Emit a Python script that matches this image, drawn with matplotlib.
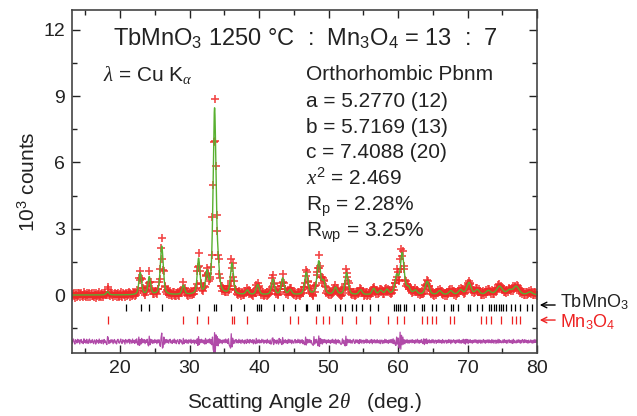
import matplotlib
matplotlib.use("Agg")
import matplotlib.pyplot as plt
import numpy as np
from matplotlib.ticker import MultipleLocator

plt.rcParams['font.family'] = ['Liberation Sans', 'DejaVu Sans']
plt.rcParams['mathtext.fontset'] = 'custom'
plt.rcParams['mathtext.rm'] = 'Liberation Sans'
plt.rcParams['mathtext.it'] = 'Liberation Serif:italic'
plt.rcParams['mathtext.bf'] = 'Liberation Sans:bold'

# peaks: position (deg), height (10^3 counts), FWHM (deg)
peak_pos = [18.2, 22.9, 24.2, 26.0, 29.1, 31.3, 32.5, 33.6, 34.1, 36.1, 38.3,
            39.8, 42.0, 43.4, 44.5, 46.8, 48.6, 49.3, 51.0, 52.6, 54.6, 56.5,
            57.5, 58.4, 59.8, 60.6, 61.5, 62.5, 64.2, 66.0, 67.6, 69.0, 70.2,
            71.4, 73.0, 74.6, 76.0, 77.0, 79.0]
peak_h = [0.15, 1.0, 0.8, 2.2, 0.42, 1.6, 0.9, 8.35, 0.9, 1.4, 0.2,
          0.45, 0.7, 0.75, 0.22, 1.0, 1.5, 0.55, 0.32, 1.0, 0.22, 0.28,
          0.18, 0.22, 0.8, 1.85, 0.28, 0.18, 0.6, 0.18, 0.18, 0.22, 0.55,
          0.22, 0.18, 0.38, 0.18, 0.38, 0.13]
peak_w = [0.45, 0.45, 0.45, 0.5, 0.45, 0.45, 0.45, 0.5, 0.45, 0.5, 0.5,
          0.5, 0.5, 0.5, 0.5, 0.55, 0.6, 0.5, 0.55, 0.55, 0.55, 0.55,
          0.55, 0.55, 0.6, 0.65, 0.6, 0.6, 0.65, 0.65, 0.65, 0.7, 0.7,
          0.7, 0.8, 1.0, 0.8, 1.0, 0.8]
background = 0.0

# obs - calc in units of 10 counts, one value per 0.1 deg from 13.0 to 80.0
resid = [
    6, -9, 3, 11, -5, -12, 8, 2, -7, 10,
    -3, 7, -11, 4, 9, -6, 1, -10, 12, -4,
    5, -8, 10, -2, -9, 6, 11, -7, 3, -5,
    9, -4, -10, 7, 2, -12, 8, -3, 5, -8,
    11, -6, 4, -9, 7, 1, -11, 9, -5, 3,
    -8, -14, 22, 16, -9, 4, -6, 8, -3, 7,
    -10, 5, 9, -7, 2, -11, 6, 10, -4, -8,
    3, 11, -6, -9, 8, -2, 5, -12, 9, 4,
    -7, 6, -3, 10, -10, 7, 2, -8, 11, -5,
    4, -9, 8, -6, 12, -10, -16, 20, -18, 8,
    -12, 14, -6, 9, -5, 8, -10, 6, -4, 10,
    -14, -20, 24, -15, 10, -6, 8, -9, 5, -7,
    9, -4, 6, -10, 7, -5, 8, -14, -22, 18,
    38, -30, -25, 20, -12, 8, -6, 9, -5, 7,
    -8, 5, 10, -6, 3, -9, 7, -4, 11, -7,
    6, -10, 4, 8, -5, -11, 9, -3, 6, -8,
    -12, 14, -10, 6, -4, 9, -7, 5, -9, 8,
    3, -6, 10, -8, 5, -4, 7, -11, 6, -3,
    -9, 12, -18, 22, -14, 8, -6, 10, -5, 7,
    -8, 6, -12, 14, -10, 7, -5, 9, -6, 12,
    -10, 8, -15, 20, -35, -50, 40, -55, 30, -18,
    22, -20, 12, -8, 9, -6, 5, -10, 7, -4,
    8, -6, 11, -5, 7, -9, 12, -15, -22, -30,
    35, -25, 15, -10, 6, -8, 5, 9, -6, 4,
    -7, 10, -4, 6, -9, 5, 8, -6, 3, -10,
    7, -5, -9, 10, -4, 6, -8, 9, -3, 5,
    -6, 8, -11, 7, -4, -10, 14, -8, 6, -5,
    9, -7, 4, -6, 10, -3, 7, -9, 5, -4,
    6, -8, 10, -5, 3, -9, 7, -12, -10, 15,
    16, -14, 8, -6, 5, -10, 7, -4, -12, 14,
    -6, 9, -8, -14, 18, -10, 6, -5, 8, -7,
    4, -9, 10, -6, 8, -5, 7, -10, 6, -3,
    -8, 5, 9, -7, 4, -6, 10, -4, 7, -9,
    6, -5, 8, -10, 4, -12, -15, 20, -16, 10,
    -7, 8, -5, 9, -6, 4, -10, -14, -18, 22,
    -12, 8, -6, 10, -8, -20, 25, -22, 14, -9,
    10, -12, 8, -6, 9, -5, 7, -10, 6, -4,
    8, -6, 5, -9, 7, -4, 10, -7, 5, -8,
    10, -12, 6, -5, 8, -7, 4, -9, -14, -10,
    12, -8, 6, -16, -20, 24, -18, 10, -6, 8,
    -5, 9, -7, 4, -8, 6, 10, -5, -9, 7,
    -4, 8, -6, 5, -10, 9, -5, 7, -8, 4,
    6, -9, 5, -4, 10, -7, 8, -5, 3, -8,
    7, -5, 9, -10, 6, -4, 8, -7, 5, -6,
    9, -6, 4, -8, 7, -10, 5, 6, -9, 4,
    -7, 10, -5, 8, -6, 4, -9, 7, -5, 8,
    -6, 9, -8, 12, -10, 6, -14, -18, 20, -12,
    16, -22, -30, 42, -35, 28, -15, 20, -12, 8,
    -10, 6, -5, 9, -7, 5, -8, 6, -4, 7,
    -6, 8, -5, 4, -9, 7, -6, 5, 10, -7,
    5, -8, 6, -4, 9, -6, -10, 12, -14, 10,
    -8, 12, -10, 6, -5, 8, -7, 4, -6, 9,
    -5, 7, -8, 4, 6, -9, 5, -4, 8, -6,
    7, -5, 4, -8, 9, -6, 5, -7, 4, 6,
    -8, 5, -6, 9, -4, 7, -10, 6, -5, 4,
    8, -6, 5, -9, 6, -4, 7, -5, 9, -7,
    4, -8, 6, -5, 10, -9, 8, -12, 10, -6,
    9, -10, 7, -5, 8, -6, 4, -8, 6, -5,
    7, -4, 8, -6, 5, -9, 6, -4, 7, -8,
    5, -7, 4, 9, -6, 5, -8, 6, -4, 7,
    -6, 8, -5, 4, -7, 9, -5, 6, -8, 4,
    6, -9, 5, -6, 10, -7, 8, -5, 4, -6,
    -5, 7, -6, 9, -4, 5, -8, 6, -7, 5,
    8, -5, 4, -7, 6, -9, 10, -6, 5, -4,
    -7, 6, -5, 8, -4, 6, -8, 5, -6, 9,
    5, -6, 8, -4, 7, -5, 4, -8, 6, -5,
    -4, 7, -6, 5, -8, 6, -5, 9, -4, 6,
    -5,
]

# Bragg positions
tb_ticks = [20.8, 23.0, 24.2, 26.1, 31.4, 33.5, 33.8, 35.9, 37.8, 39.7, 40.0,
            40.3, 42.1, 43.5, 45.2, 46.7, 46.9, 48.4, 48.7, 51.0, 51.7, 52.4,
            53.4, 53.9, 54.8, 56.0, 57.1, 59.4, 59.7, 60.0, 60.3, 60.8, 61.2,
            62.3, 63.5, 63.8, 64.9, 65.4, 66.6, 67.6, 67.9, 68.7, 70.0, 70.3,
            71.4, 72.1, 73.1, 73.4, 73.8, 74.1, 74.5, 74.8, 75.1, 75.5, 76.2,
            76.9, 77.6, 78.6, 79.3]
mn_ticks = [18.2, 29.0, 31.0, 32.6, 36.1, 36.4, 38.2, 44.4, 45.6, 48.2, 49.2,
            50.0, 51.9, 53.9, 56.0, 58.5, 59.9, 60.8, 63.5, 64.2, 64.9, 65.4,
            67.5, 68.0, 71.9, 72.6, 73.4, 74.8, 76.4, 77.0, 77.6]
diff_offset = -2.1


def profile(x):
    y = np.full_like(x, background)
    for p, h, w in zip(peak_pos, peak_h, peak_w):
        d = (x - p) / (w / 2)
        y += h * (0.5 / (1 + d**2) + 0.5 * np.exp(-np.log(2) * d**2))
    return y


x_fine = np.linspace(13.0, 80.0, 4000)
x_obs = 13.0 + 0.1 * np.arange(len(resid))
diff = np.array(resid) / 100.0
obs = profile(x_obs) + diff

fig = plt.figure(figsize=(6.37, 4.16), dpi=100)
ax = fig.add_axes([0.113, 0.151, 0.730, 0.825])

ax.plot(x_obs, obs, ls='none', marker='+', ms=6, mew=1.2, color='#f02828', alpha=0.85)
ax.plot(x_fine, profile(x_fine), color='#58b030', lw=1.0)
ax.vlines(tb_ticks, -0.40, -0.74, color='k', lw=0.9)
ax.vlines(mn_ticks, -0.95, -1.30, color='#ee2222', lw=0.9)
ax.plot(x_obs, diff + diff_offset, color='#b04aa8', lw=0.9)

ax.set_xlim(13.08, 80)
ax.set_ylim(-2.63, 12.9)
ax.xaxis.set_major_locator(MultipleLocator(10))
ax.xaxis.set_minor_locator(MultipleLocator(5))
ax.yaxis.set_major_locator(MultipleLocator(3))
ax.yaxis.set_minor_locator(MultipleLocator(1.5))
ax.tick_params(which='both', direction='in', top=True, right=True, labelsize=14, colors='#222222')
ax.tick_params(which='major', length=6, width=1, pad=5)
ax.tick_params(which='minor', length=3.5, width=1)
for s in ax.spines.values():
    s.set_color('#444444')
    s.set_linewidth(1.2)

ax.set_xlabel(r"Scatting Angle 2$\theta$   (deg.)", fontsize=15, color='#222222', labelpad=10)
ax.set_ylabel(r"10$^3$ counts", fontsize=15, color='#222222', labelpad=3)

ax.text(46.7, 11.3, r"TbMnO$_3$ 1250 °C  :  Mn$_3$O$_4$ = 13  :  7", ha='center', va='baseline',
        fontsize=17, color='#222222')
ax.text(17.5, 9.7, r"$\lambda$ = Cu K$_\alpha$", ha='left', va='baseline', fontsize=15, color='#222222')
info = ["Orthorhombic Pbnm", "a = 5.2770 (12)", "b = 5.7169 (13)", "c = 7.4088 (20)",
        r"$x^2$ = 2.469", r"R$_\mathrm{p}$ = 2.28%", r"R$_\mathrm{wp}$ = 3.25%"]
info_y = [9.71, 8.50, 7.32, 6.19, 4.98, 3.82, 2.64]
for t, yy in zip(info, info_y):
    ax.text(46.8, yy, t, ha='left', va='baseline', fontsize=15, color='#222222')

ax.annotate('', xy=(1.0, -0.45), xytext=(1.045, -0.45), xycoords=('axes fraction', 'data'),
            arrowprops=dict(arrowstyle='->', color='k', lw=1))
ax.annotate('', xy=(1.0, -1.13), xytext=(1.045, -1.13), xycoords=('axes fraction', 'data'),
            arrowprops=dict(arrowstyle='->', color='#ee2222', lw=1))
ax.text(1.05, -0.55, r"TbMnO$_3$", transform=ax.get_yaxis_transform(), ha='left', va='baseline',
        fontsize=13, color='#222222', clip_on=False)
ax.text(1.05, -1.44, r"Mn$_3$O$_4$", transform=ax.get_yaxis_transform(), ha='left', va='baseline',
        fontsize=13, color='#ee2222', clip_on=False)

fig.savefig('out.png', dpi=100)
